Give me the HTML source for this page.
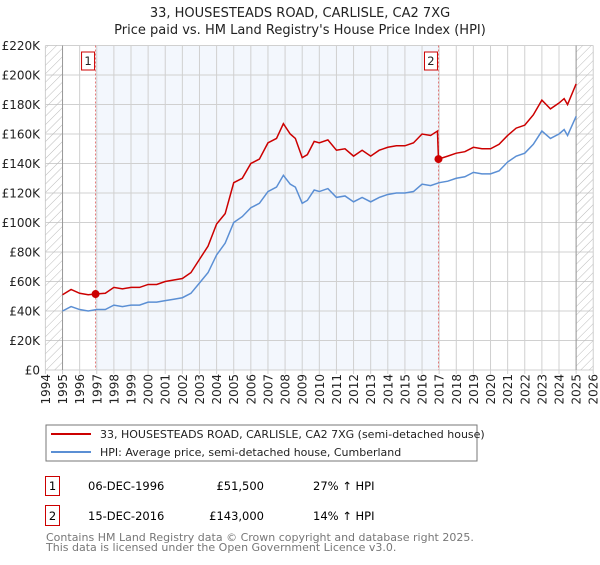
<!DOCTYPE html>
<html><head><meta charset="utf-8"><style>
body{margin:0;background:#fff;font-family:"Liberation Sans","DejaVu Sans",sans-serif;}
svg text{font-family:"DejaVu Sans","Liberation Sans",sans-serif;}
</style></head><body>
<svg id="c" width="600" height="560" xmlns="http://www.w3.org/2000/svg">
<defs><pattern id="hatch" width="6" height="6" patternUnits="userSpaceOnUse" patternTransform="rotate(45)"><line x1="0" y1="0" x2="0" y2="6" stroke="#bbb" stroke-width="1"/></pattern></defs>
<text x="300" y="17" text-anchor="middle" font-size="13" fill="#222">33, HOUSESTEADS ROAD, CARLISLE, CA2 7XG</text>
<text x="300" y="34" text-anchor="middle" font-size="13" fill="#222">Price paid vs. HM Land Registry's House Price Index (HPI)</text>
<g id="plot"></g>
<rect x="46" y="425" width="431" height="36" fill="#fff" stroke="#777"/>
<line x1="51" y1="434" x2="91" y2="434" stroke="#cc0000" stroke-width="2"/>
<text x="100" y="438" font-size="11" fill="#222">33, HOUSESTEADS ROAD, CARLISLE, CA2 7XG (semi-detached house)</text>
<line x1="51" y1="452" x2="91" y2="452" stroke="#5b8fd4" stroke-width="2"/>
<text x="100" y="456" font-size="11" fill="#222">HPI: Average price, semi-detached house, Cumberland</text>
<g>
<rect x="45.5" y="476.5" width="14" height="19" fill="#fff" stroke="#cc0000"/><text x="52.5" y="490" font-size="11.5" text-anchor="middle">1</text>
<text x="88" y="490" font-size="11.5">06-DEC-1996</text><text x="264" y="490" font-size="11.5" text-anchor="end">£51,500</text><text x="313" y="490" font-size="11.5">27% ↑ HPI</text></g>
<g>
<rect x="45.5" y="505.5" width="14" height="20" fill="#fff" stroke="#cc0000"/><text x="52.5" y="520" font-size="11.5" text-anchor="middle">2</text>
<text x="88" y="520" font-size="11.5">15-DEC-2016</text><text x="264" y="520" font-size="11.5" text-anchor="end">£143,000</text><text x="313" y="520" font-size="11.5">14% ↑ HPI</text></g>
<text x="46" y="541" font-size="11" fill="#777">Contains HM Land Registry data © Crown copyright and database right 2025.</text>
<text x="46" y="551" font-size="11" fill="#777">This data is licensed under the Open Government Licence v3.0.</text>
</svg>
<script>
const yearTicks=[1994,1995,1996,1997,1998,1999,2000,2001,2002,2003,2004,2005,2006,2007,2008,2009,2010,2011,2012,2013,2014,2015,2016,2017,2018,2019,2020,2021,2022,2023,2024,2025,2026];
const valueTicks=[0,20000,40000,60000,80000,100000,120000,140000,160000,180000,200000,220000];
const valueLabels=["£0","£20K","£40K","£60K","£80K","£100K","£120K","£140K","£160K","£180K","£200K","£220K"];
const hpiDates=[1995,1995.5,1996,1996.5,1997,1997.5,1998,1998.5,1999,1999.5,2000,2000.5,2001,2001.5,2002,2002.5,2003,2003.5,2004,2004.5,2005,2005.5,2006,2006.5,2007,2007.5,2007.9,2008.3,2008.6,2009,2009.3,2009.7,2010,2010.5,2011,2011.5,2012,2012.5,2013,2013.5,2014,2014.5,2015,2015.5,2016,2016.5,2017,2017.5,2018,2018.5,2019,2019.5,2020,2020.5,2021,2021.5,2022,2022.5,2023,2023.5,2024,2024.3,2024.5,2025];
const hpiValues=[40,43,41,40,41,41,44,43,44,44,46,46,47,48,49,52,59,66,78,86,100,104,110,113,121,124,132,126,124,113,115,122,121,123,117,118,114,117,114,117,119,120,120,121,126,125,127,128,130,131,134,133,133,135,141,145,147,153,162,157,160,163,159,172];
const propDates=[1995,1995.5,1996,1996.5,1996.93,1997.5,1998,1998.5,1999,1999.5,2000,2000.5,2001,2001.5,2002,2002.5,2003,2003.5,2004,2004.5,2005,2005.5,2006,2006.5,2007,2007.5,2007.9,2008.3,2008.6,2009,2009.3,2009.7,2010,2010.5,2011,2011.5,2012,2012.5,2013,2013.5,2014,2014.5,2015,2015.5,2016,2016.5,2016.9,2016.96,2017.5,2018,2018.5,2019,2019.5,2020,2020.5,2021,2021.5,2022,2022.5,2023,2023.5,2024,2024.3,2024.5,2025];
const propValues=[51,54.6,52,51,51.5,52,56,55,56,56,58,58,60,61,62,66,75,84,99,106,127,130,140,143,154,157,167,160,157,144,146,155,154,156,149,150,145,149,145,149,151,152,152,154,160,159,162,143,145,147,148,151,150,150,153,159,164,166,173,183,177,181,184,180,194];
const sales=[{d:1996.93,v:51500,n:"1"},{d:2016.96,v:143000,n:"2"}];
const X0=45.4,PX=17.12,Y0=370,PY=29.5/20000;
const xs=y=>X0+(y-1994)*PX, ys=v=>Y0-v*PY;
const ns="http://www.w3.org/2000/svg",g=document.getElementById('plot');
function mk(t,a){const e=document.createElementNS(ns,t);for(const k in a)e.setAttribute(k,a[k]);g.appendChild(e);return e;}
let e;
e=mk('rect',{x:xs(sales[0].d),y:ys(220000),width:xs(sales[1].d)-xs(sales[0].d),height:Y0-ys(220000),fill:'#eef3fc',opacity:0.7});

yearTicks.forEach(y=>{e=mk('line',{x1:xs(y),x2:xs(y),y1:ys(220000),y2:Y0+4,stroke:'#d0d0d0'});

const t=mk('text',{x:0,y:0,'font-size':12,fill:'#222','text-anchor':'end',transform:`translate(${xs(y)+4.5},374) rotate(-90)`});t.textContent=y;
});
valueTicks.forEach((v,i)=>{e=mk('line',{x1:xs(1994),x2:xs(2026),y1:ys(v),y2:ys(v),stroke:'#d0d0d0'});

const t=mk('text',{x:40,y:ys(v)+4.5,'font-size':12,fill:'#222','text-anchor':'end'});t.textContent=valueLabels[i];
});
e=mk('rect',{x:xs(1994),y:ys(220000),width:xs(1995)-xs(1994),height:Y0-ys(220000),fill:'url(#hatch)'});

e=mk('rect',{x:xs(2025),y:ys(220000),width:xs(2026)-xs(2025),height:Y0-ys(220000),fill:'url(#hatch)'});

[1995,2025].forEach(y=>{e=mk('line',{x1:xs(y),x2:xs(y),y1:ys(220000),y2:Y0,stroke:'#999'});
});
sales.forEach(s=>{e=mk('line',{x1:xs(s.d),x2:xs(s.d),y1:ys(220000),y2:Y0,stroke:'#e06060','stroke-dasharray':'2,2','stroke-width':0.8});
});
e=mk('polyline',{points:hpiDates.map((d,i)=>xs(d)+','+ys(hpiValues[i]*1000)).join(' '),fill:'none',stroke:'#5b8fd4','stroke-width':1.5});

e=mk('polyline',{points:propDates.map((d,i)=>xs(d)+','+ys(propValues[i]*1000)).join(' '),fill:'none',stroke:'#cc0000','stroke-width':1.5});

sales.forEach(s=>{e=mk('circle',{cx:xs(s.d),cy:ys(s.v),r:4,fill:'#cc0000'});

const r=mk('rect',{x:xs(s.d)-14,y:52,width:13,height:18,fill:'#fff',stroke:'#cc0000'});

const t=mk('text',{x:xs(s.d)-7.5,y:65,'font-size':11.5,'text-anchor':'middle',fill:'#222'});t.textContent=s.n;
});
</script>
</body></html>
